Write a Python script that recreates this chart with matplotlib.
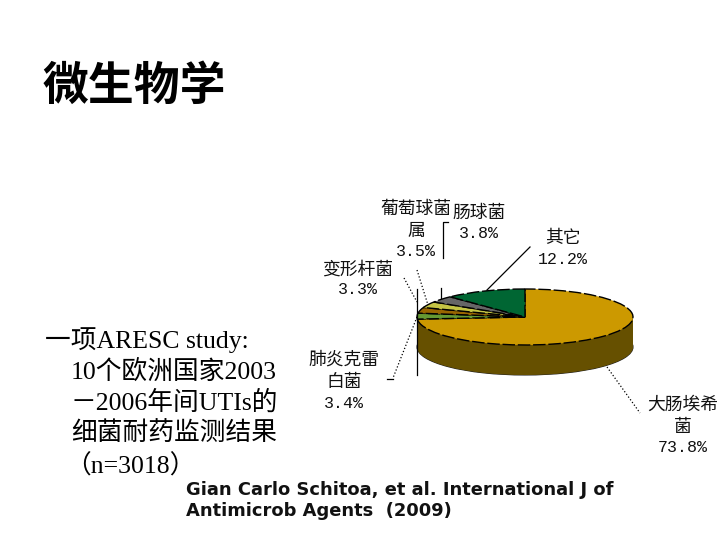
import matplotlib
matplotlib.use("Agg")
import matplotlib.pyplot as plt

title = "微生物学"
body_lines = ["一项ARESC study:", "10个欧洲国家2003", "－2006年间UTIs的", "细菌耐药监测结果", "（n=3018）"]
citation = ["Gian Carlo Schitoa, et al. International J of", "Antimicrob Agents  (2009)"]
categories = [["大肠埃希", "菌"], ["肺炎克雷", "白菌"], ["变形杆菌"], ["葡萄球菌", "属"], ["肠球菌"], ["其它"]]
values = [73.8, 3.4, 3.3, 3.5, 3.8, 12.2]
top_colors = ["#CC9900", "#669933", "#996600", "#C4C444", "#666666", "#006633"]
side_color = "#665000"

W, H = 720, 540
CX, CY, RX, RY, DEPTH = 525, 317, 108, 28, 30

fig = plt.figure(figsize=(7.2, 5.4), dpi=100, facecolor="white")

# squashed pie axes: one data unit equals RX px across, RY px up
pie_ax = fig.add_axes([0, 0, 1, 1])
side_colors = [side_color] * len(values)
for d in range(DEPTH, 0, -1):
    pie_ax.pie(values, colors=side_colors, startangle=90, counterclock=False,
               center=(0, -d / RY), radius=1, frame=False,
               wedgeprops=dict(linewidth=0))
pie_ax.pie([sum(values)], colors=[side_color], startangle=90, counterclock=False,
           center=(0, -DEPTH / RY), radius=1, frame=False,
           wedgeprops=dict(linewidth=0.8, edgecolor="#222222", zorder=0))
pie_ax.pie(values, colors=top_colors, startangle=90, counterclock=False,
           center=(0, 0), radius=1, frame=False,
           wedgeprops=dict(linewidth=1.0, edgecolor="black", linestyle=(0, (9, 2))))
pie_ax.set_aspect("auto")
pie_ax.set_xlim((0 - CX) / RX, (W - CX) / RX)
pie_ax.set_ylim((CY - H) / RY, CY / RY)
pie_ax.axis("off")

# overlay in image pixels for text and leader lines
ov = fig.add_axes([0, 0, 1, 1], facecolor="none")
ov.set_xlim(0, W)
ov.set_ylim(H, 0)
ov.axis("off")

CJK = "Noto Sans CJK SC"
MIX = ["Liberation Serif", CJK]

ov.text(43, 87, title, family=CJK, weight="bold", fontsize=33, va="center", ha="left", color="black")

body_pos = [(45, 340), (71, 372), (71, 403), (71, 434), (65, 466)]
for (x, y), s in zip(body_pos, body_lines):
    ov.text(x, y, s, family=MIX, fontsize=18.5, va="center", ha="left", color="black")

for y, s in zip((490, 511), citation):
    ov.text(186, y, s, family="DejaVu Sans", weight="bold", fontsize=12.9, va="center", ha="left", color="#111111")

def lab(x, ys, names, val):
    for y, s in zip(ys, names):
        ov.text(x, y + 2, s, family=CJK, fontsize=12.8, ha="center", va="center", color="#111111")
    ov.text(x, ys[-1], f"{val}%", family="Liberation Mono", fontsize=12, ha="center", va="center", color="#111111")

lab(683, (403, 425, 447), categories[0], values[0])
lab(344, (358, 380, 403), categories[1], values[1])
lab(358, (268, 290), categories[2], values[2])
lab(416, (207, 229, 251), categories[3], values[3])
lab(479, (211, 233), categories[4], values[4])
lab(563, (236, 259), categories[5], values[5])

leaders = [
    ([530, 487], [247, 290], "-"),
    ([448, 443, 443], [222, 222, 258], "-"),
    ([441, 441], [288, 298], "-"),
    ([417, 428], [270, 305], ":"),
    ([404, 417], [278, 302], ":"),
    ([417, 417], [289, 375], "-"),
    ([417, 393], [317, 378], ":"),
    ([387, 393], [379, 379], "-"),
    ([607, 640], [367, 413], ":"),
]
for xs, ys, st in leaders:
    ov.plot(xs, ys, color="black", lw=0.9, ls=st)
ov.set_xlim(0, W)
ov.set_ylim(H, 0)

fig.savefig("out.png", dpi=100)
